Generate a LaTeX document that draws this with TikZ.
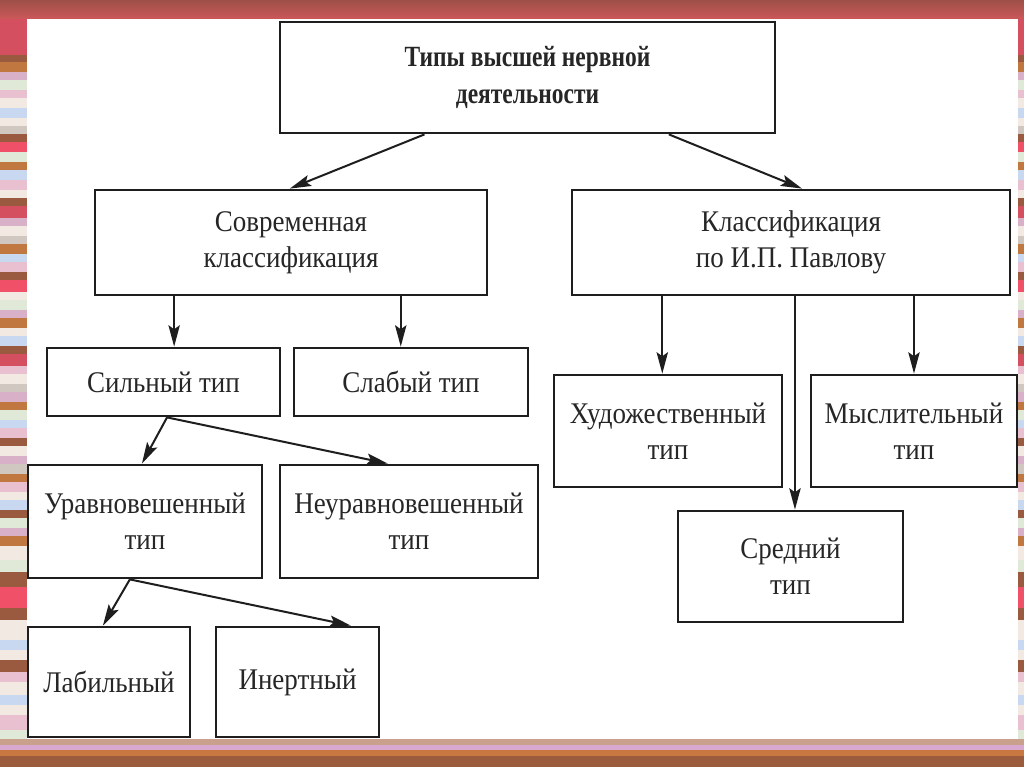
\documentclass[tikz,border=0pt]{standalone}
\usepackage{fontspec}
\setmainfont{Liberation Serif}
\newfontfamily\bodyfont[FakeStretch=0.9]{Liberation Serif}
\newfontfamily\headfont[FakeStretch=0.8]{Liberation Serif}
\usetikzlibrary{calc,arrows.meta}
\definecolor{sred}{HTML}{D45060}
\definecolor{sbrown}{HTML}{9A5A40}
\definecolor{sorange}{HTML}{C07840}
\definecolor{slav}{HTML}{D8B0C8}
\definecolor{sgreen}{HTML}{E0E8D8}
\definecolor{spink}{HTML}{E8C0D0}
\definecolor{scream}{HTML}{F2EAE2}
\definecolor{sblue}{HTML}{C8D8F0}
\definecolor{sgray}{HTML}{D0C8C0}
\definecolor{spinkred}{HTML}{F05068}
\definecolor{topdark}{HTML}{9E5048}
\definecolor{topred}{HTML}{CC585A}
\definecolor{botA}{HTML}{C8A08C}
\definecolor{botB}{HTML}{D8A8D0}
\definecolor{botC}{HTML}{C87840}
\definecolor{botD}{HTML}{9A5C3C}
\definecolor{linec}{HTML}{1E1E1E}
\definecolor{textc}{HTML}{262626}
\tikzset{
  box/.style={draw=linec, line width=2.1pt, inner sep=0pt, align=center,
    text=textc, font=\bodyfont\fontsize{22.5pt}{27pt}\selectfont},
  headbox/.style={box, font=\headfont\bfseries\fontsize{22pt}{28pt}\selectfont},
  arr/.style={draw=linec, line width=1.5pt, -{Stealth[length=16pt,width=8.5pt,inset=3pt]}},
}
\begin{document}
\begin{tikzpicture}[x=0.75pt,y=-0.75pt]
\useasboundingbox (0,0) rectangle (1024,767);
% background and frame
\fill[white] (0,0) rectangle (1024,767);
\shade[top color=topdark, bottom color=topred] (0,0) rectangle (1024,19);
\foreach \ya/\yb/\c in {19/55/sred,55/62/sbrown,62/72/sorange,72/80/slav,80/90/sgreen,90/98/spink,98/108/scream,108/118/sblue,118/126/scream,126/134/sgray,134/142/sbrown,142/152/spinkred,152/162/sgreen,162/170/sorange,170/180/sblue,180/190/spink,190/198/scream,198/206/sbrown,206/218/sred,218/226/slav,226/236/scream,236/244/sgray,244/254/sorange,254/262/sblue,262/272/spink,272/280/sbrown,280/292/spinkred,292/300/scream,300/310/sgreen,310/318/slav,318/328/sorange,328/336/scream,336/346/sblue,346/354/sbrown,354/366/sred,366/374/spink,374/384/scream,384/392/sgray,392/402/slav,402/410/sorange,410/420/sgreen,420/428/sblue,428/438/spink,438/446/sbrown,446/456/scream,456/464/slav,464/474/sgray,474/482/sorange,482/492/spink,492/500/scream,500/510/sblue,510/518/sbrown,518/528/sgreen,528/536/slav,536/546/sorange,546/560/scream,560/572/sgreen,572/587/sbrown,587/608/spinkred,608/620/sbrown,620/640/scream,640/650/sblue,650/660/scream,660/672/sbrown,672/682/spink,682/695/scream,695/705/sblue,705/715/scream,715/730/spink,730/739/sgreen}{
  \fill[\c] (0,\ya) rectangle (27,\yb);
  \fill[\c] (1018,\ya) rectangle (1024,\yb);
}
\fill[botA] (0,739) rectangle (1024,745);
\fill[botB] (0,745) rectangle (1024,750);
\fill[botC] (0,750) rectangle (1024,756);
\fill[botD] (0,756) rectangle (1024,767);

% nodes
\node[headbox, minimum width=371.25pt, minimum height=83.25pt] (top) at (527.5,77.5) {Типы высшей нервной\\деятельности};
\node[box, minimum width=294pt, minimum height=78.75pt] (sovr) at (291,242.5) {Современная\\классификация};
\node[box, minimum width=328.5pt, minimum height=78.75pt] (pavl) at (791,242.5) {Классификация\\по И.П. Павлову};
\node[box, minimum width=174.75pt, minimum height=51pt] (silny) at (163.5,382) {Сильный тип};
\node[box, minimum width=175.5pt, minimum height=51pt] (slaby) at (411,382) {Слабый тип};
\node[box, minimum width=175.5pt, minimum height=84.75pt] (urav) at (145,521.5) {Уравновешенный\\тип};
\node[box, minimum width=193.5pt, minimum height=84.75pt] (neur) at (409,521.5) {Неуравновешенный\\тип};
\node[box, minimum width=121.5pt, minimum height=82.5pt] (lab) at (109,682) {Лабильный};
\node[box, minimum width=122.25pt, minimum height=82.5pt] (inert) at (297.5,682) {Инертный};
\node[box, minimum width=171pt, minimum height=84pt] (hud) at (668,431) {Художественный\\тип};
\node[box, minimum width=154.5pt, minimum height=84pt] (mysl) at (914,431) {Мыслительный\\тип};
\node[box, minimum width=168.75pt, minimum height=83.25pt] (sred) at (790.5,566.5) {Средний\\тип};

% connectors
\draw[arr] ($(top.south west)!0.293!(top.south east)$) -- ($(sovr.north west)!0.497!(sovr.north east)$);
\draw[arr] ($(top.south west)!0.784!(top.south east)$) -- ($(pavl.north west)!0.525!(pavl.north east)$);
\draw[arr] ($(sovr.south west)!0.204!(sovr.south east)$) coordinate (s1) -- (s1 |- silny.north);
\draw[arr] ($(sovr.south west)!0.778!(sovr.south east)$) coordinate (s2) -- (s2 |- slaby.north);
\draw[arr] ($(pavl.south west)!0.208!(pavl.south east)$) coordinate (p1) -- (p1 |- hud.north);
\draw[arr] ($(pavl.south west)!0.779!(pavl.south east)$) coordinate (p2) -- (p2 |- mysl.north);
\draw[arr] ($(pavl.south west)!0.509!(pavl.south east)$) coordinate (p3) -- (p3 |- sred.north);
\draw[arr] ($(silny.south west)!0.515!(silny.south east)$) -- ($(urav.north west)!0.487!(urav.north east)$);
\draw[arr] ($(silny.south west)!0.515!(silny.south east)$) -- ($(neur.north west)!0.419!(neur.north east)$);
\draw[arr] ($(urav.south west)!0.436!(urav.south east)$) -- ($(lab.north west)!0.463!(lab.north east)$);
\draw[arr] ($(urav.south west)!0.436!(urav.south east)$) -- ($(inert.north west)!0.822!(inert.north east)$);
\end{tikzpicture}
\end{document}
